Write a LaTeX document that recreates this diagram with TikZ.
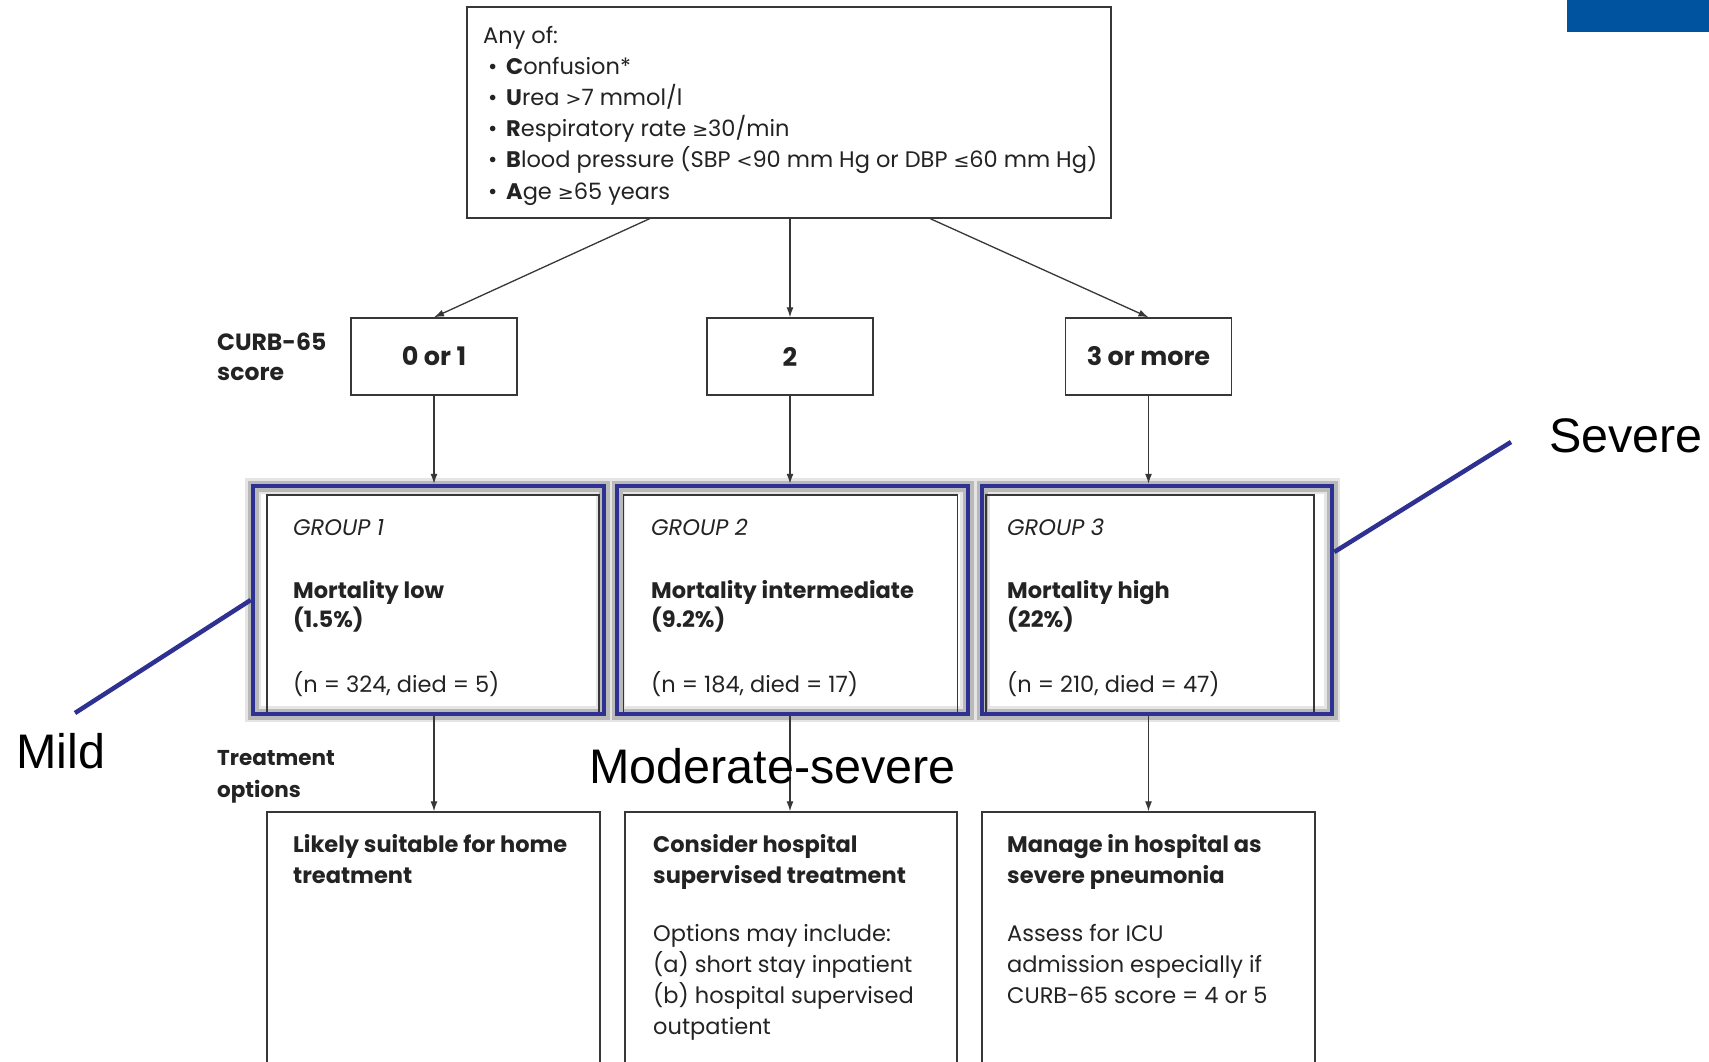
\documentclass[tikz,border=0pt]{standalone}
\usepackage{fontspec}
\setmainfont{Poppins}
\newfontfamily\arialfont{Liberation Sans}
\newfontfamily\symfont{DejaVu Sans}
\usetikzlibrary{arrows.meta,calc}
\definecolor{navy}{RGB}{46,49,146}
\definecolor{topblue}{RGB}{0,83,159}
\definecolor{ink}{RGB}{35,35,35}
\definecolor{edge}{RGB}{55,55,55}
\newcommand\fsz{\fontsize{22.5}{27}\selectfont}
\newcommand\sy[1]{{\symfont\fontsize{19}{22}\selectfont #1}}
\begin{document}
\begin{tikzpicture}[x=1pt,y=-1pt,
  frame/.style={draw=edge,line width=1.4pt,inner sep=0pt},
  txt/.style={anchor=base west,inner sep=0pt,text=ink,font=\fsz},
  btxt/.style={txt,font=\fsz\bfseries},
  itxt/.style={txt,font=\fsz\itshape},
  scorebox/.style={frame,minimum width=166pt,minimum height=77pt,text=ink,font=\fontsize{25.5}{30}\selectfont\bfseries},
  arr/.style={draw=edge,line width=1.3pt,-{Latex[length=10pt,width=7pt]}},
  glowA/.style={draw=gray!20,line width=16pt,inner sep=0pt},
  glowB/.style={draw=gray!55,line width=11pt,inner sep=0pt},
  bluebox/.style={draw=navy,line width=4.5pt,inner sep=0pt},
  bigtxt/.style={anchor=base west,inner sep=0pt,text=black,font=\arialfont\fontsize{48.5}{54}\selectfont},
  pointer/.style={draw=navy,line width=4.5pt}]
\useasboundingbox (0,0) rectangle (1709,1061);
\fill[white] (0,0) rectangle (1709,1061);
% top-right block
\fill[topblue] (1567,0) rectangle (1709,32);
% top box
\node[frame,minimum width=644pt,minimum height=211pt] (top) at (789,112.5) {};
\node[txt] (l0) at (483,43) {Any of:};
\node[txt] (l1) at (488,74.2) {\makebox[18pt][l]{•}\textbf{C}onfusion*};
\node[txt] (l2) at (488,105.4) {\makebox[18pt][l]{•}\textbf{U}rea \sy{>}7 mmol/l};
\node[txt] (l3) at (488,136.6) {\makebox[18pt][l]{•}\textbf{R}espiratory rate \sy{≥}30/min};
\node[txt] (l4) at (488,167.8) {\makebox[18pt][l]{•}\textbf{B}lood pressure (SBP \sy{<}90 mm Hg or DBP \sy{≤}60 mm Hg)};
\node[txt] (l5) at (488,199) {\makebox[18pt][l]{•}\textbf{A}ge \sy{≥}65 years};
% score boxes
\node[scorebox] (s1) at (434,356.5) {0 or 1};
\node[scorebox] (s2) at (790,356.5) {2};
\node[scorebox] (s3) at (1148.5,356.5) {3 or more};
\node[btxt,font=\fontsize{23.5}{28}\selectfont\bfseries] (curb) at (217,350) {CURB-65};
\node[btxt,font=\fontsize{23.5}{28}\selectfont\bfseries] (score) at (217,380) {score};
% arrows top -> scores
\coordinate (ta) at ($(top.south west)!0.284!(top.south east)$);
\coordinate (tc) at ($(top.south west)!0.719!(top.south east)$);
\draw[arr] (ta) -- (s1.north);
\draw[arr] (top.south -| s2.north) -- (s2.north);
\draw[arr] (tc) -- (s3.north);
% group boxes: glow, inner frame, blue frame
\node[glowA,minimum width=351pt,minimum height=228pt] (ga1) at (428.5,600) {};
\node[glowA,minimum width=351pt,minimum height=228pt] (ga2) at (792.5,600) {};
\node[glowA,minimum width=350pt,minimum height=228pt] (ga3) at (1157,600) {};
\node[glowB,minimum width=351pt,minimum height=228pt] (gb1) at (428.5,600) {};
\node[glowB,minimum width=351pt,minimum height=228pt] (gb2) at (792.5,600) {};
\node[glowB,minimum width=350pt,minimum height=228pt] (gb3) at (1157,600) {};
\node[frame,minimum width=332pt,minimum height=220pt] (g1) at (433,605) {};
\node[frame,minimum width=334pt,minimum height=220pt] (g2) at (790.5,605) {};
\node[frame,minimum width=328pt,minimum height=220pt] (g3) at (1150,605) {};
\node[bluebox,minimum width=351pt,minimum height=228pt] (b1) at (428.5,600) {};
\node[bluebox,minimum width=351pt,minimum height=228pt] (b2) at (792.5,600) {};
\node[bluebox,minimum width=350pt,minimum height=228pt] (b3) at (1157,600) {};
% arrows scores -> groups
\draw[arr] (s1.south) -- (s1.south |- b1.north);
\draw[arr] (s2.south) -- (s2.south |- b2.north);
\draw[arr] (s3.south) -- (s3.south |- b3.north);
% group texts
\node[itxt] (g1a) at (293,535) {GROUP 1};
\node[btxt] (g1b) at (293,598) {Mortality low};
\node[btxt] (g1c) at (293,627) {(1.5\%)};
\node[txt] (g1d) at (293,692) {(n = 324, died = 5)};
\node[itxt] (g2a) at (651,535) {GROUP 2};
\node[btxt] (g2b) at (651,598) {Mortality intermediate};
\node[btxt] (g2c) at (651,627) {(9.2\%)};
\node[txt] (g2d) at (651,692) {(n = 184, died = 17)};
\node[itxt] (g3a) at (1007,535) {GROUP 3};
\node[btxt] (g3b) at (1007,598) {Mortality high};
\node[btxt] (g3c) at (1007,627) {(22\%)};
\node[txt] (g3d) at (1007,692) {(n = 210, died = 47)};
% treatment label
\node[btxt,font=\fontsize{21.5}{26}\selectfont\bfseries] (tr1) at (217,765) {Treatment};
\node[btxt,font=\fontsize{21.5}{26}\selectfont\bfseries] (tr2) at (217,797) {options};
% treatment boxes
\node[frame,minimum width=333pt,minimum height=263pt] (t1) at (433.5,943.5) {};
\node[frame,minimum width=332pt,minimum height=263pt] (t2) at (791,943.5) {};
\node[frame,minimum width=333pt,minimum height=263pt] (t3) at (1148.5,943.5) {};
\draw[arr] (s1.south |- b1.south) -- (s1.south |- t1.north);
\draw[arr] (s2.south |- b2.south) -- (s2.south |- t2.north);
\draw[arr] (s3.south |- b3.south) -- (s3.south |- t3.north);
\node[btxt] (t1a) at (293,852) {Likely suitable for home};
\node[btxt] (t1b) at (293,883) {treatment};
\node[btxt] (t2a) at (653,852) {Consider hospital};
\node[btxt] (t2b) at (653,883) {supervised treatment};
\node[txt] (t2c) at (653,941) {Options may include:};
\node[txt] (t2d) at (653,972) {(a) short stay inpatient};
\node[txt] (t2e) at (653,1003) {(b) hospital supervised};
\node[txt] (t2f) at (653,1034) {outpatient};
\node[btxt] (t3a) at (1007,852) {Manage in hospital as};
\node[btxt] (t3b) at (1007,883) {severe pneumonia};
\node[txt] (t3c) at (1007,941) {Assess for ICU};
\node[txt] (t3d) at (1007,972) {admission especially if};
\node[txt] (t3e) at (1007,1003) {CURB-65 score = 4 or 5};
% severity labels
\node[bigtxt] (mild) at (16,768) {Mild};
\node[bigtxt] (modsev) at (589,783) {Moderate-severe};
\node[bigtxt] (severe) at (1549,452) {Severe};
\coordinate (mildend) at (75,713);
\coordinate (sevend) at (1511,442);
\draw[pointer] (mildend) -- (b1.west);
\draw[pointer] (sevend) -- ([yshift=48pt]b3.east);
\end{tikzpicture}
\end{document}
